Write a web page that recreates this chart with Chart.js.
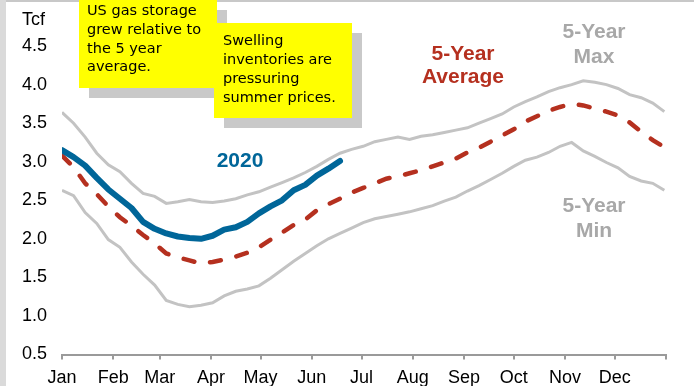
<!DOCTYPE html>
<html>
<head>
<meta charset="utf-8">
<script src="https://cdn.jsdelivr.net/npm/chart.js@4/dist/chart.umd.min.js"></script>
<style>
html,body{margin:0;padding:0;background:#fff;overflow:hidden;}
canvas{display:block;}
</style>
</head>
<body>
<canvas id="c" width="694" height="386"></canvas>
<script>
// ---- data (Tcf, weekly) ----
const weekDays = [0,7,14,21,28,35,42,49,56,63,70,77,84,91,98,105,112,119,126,133,140,147,154,161,168,175,182,189,196,203,210,217,224,231,238,245,252,259,266,273,280,287,294,301,308,315,322,329,336,343,350,357,364];
const fiveYearMax = [3.64,3.50,3.32,3.11,2.96,2.87,2.72,2.59,2.55,2.46,2.48,2.51,2.48,2.47,2.49,2.52,2.57,2.61,2.67,2.73,2.79,2.86,2.94,3.03,3.11,3.16,3.20,3.26,3.29,3.32,3.29,3.33,3.35,3.38,3.41,3.44,3.50,3.56,3.62,3.71,3.78,3.84,3.91,3.96,4.00,4.05,4.03,4.00,3.95,3.87,3.83,3.76,3.65];
const fiveYearMin = [2.63,2.56,2.34,2.20,1.99,1.89,1.70,1.54,1.40,1.20,1.15,1.12,1.14,1.17,1.26,1.32,1.35,1.39,1.49,1.60,1.71,1.81,1.91,2.00,2.07,2.14,2.21,2.26,2.29,2.32,2.35,2.39,2.43,2.49,2.54,2.62,2.69,2.77,2.85,2.94,3.02,3.06,3.12,3.20,3.25,3.14,3.07,2.99,2.92,2.81,2.75,2.72,2.63];
const fiveYearAvg = [3.08,2.93,2.72,2.58,2.42,2.28,2.17,2.05,1.94,1.81,1.76,1.72,1.68,1.70,1.73,1.77,1.82,1.89,1.99,2.08,2.18,2.25,2.37,2.45,2.52,2.60,2.66,2.72,2.78,2.81,2.85,2.89,2.94,2.99,3.04,3.12,3.18,3.26,3.34,3.42,3.52,3.59,3.66,3.71,3.75,3.73,3.69,3.65,3.60,3.51,3.39,3.28,3.19];
const year2020 = [3.15,3.06,2.95,2.79,2.64,2.52,2.40,2.22,2.13,2.07,2.03,2.01,2.00,2.04,2.12,2.15,2.22,2.33,2.42,2.50,2.63,2.70,2.82,2.91,3.01];

// ---- axis ticks ----
const monthDays = [0,31,59,90,120,151,181,212,243,273,304,334,365];
const monthLabels = ['Jan','Feb','Mar','Apr','May','Jun','Jul','Aug','Sep','Oct','Nov','Dec',''];
const yTicks = [0.5,1.0,1.5,2.0,2.5,3.0,3.5,4.0,4.5];

const pts = (vals) => vals.map((v,i)=>({x:weekDays[i], y:v}));

const FONT = "'Liberation Sans', Arial, sans-serif";
const NOTE_FONT = "'Comic Sans MS', 'DejaVu Sans', sans-serif";

const notesPlugin = {
  id:'notes',
  beforeDraw(chart){
    const c = chart.ctx;
    c.save();
    c.fillStyle = '#ffffff';
    c.fillRect(0,0,chart.width,chart.height);
    c.restore();
  },
  afterDraw(chart){
    const c = chart.ctx;
    c.save();
    // frame
    c.fillStyle = '#c8c8c8';
    c.fillRect(0,0,chart.width,2);
    c.fillStyle = '#dadada';
    c.fillRect(0,0,6,chart.height);

    // note boxes
    function box(x,y,w,h,lines,tx,ty,lh){
      c.fillStyle = '#c9c9c9';
      c.fillRect(x+10,y+10,w,h);
      c.fillStyle = '#ffff00';
      c.fillRect(x,y,w,h);
      c.fillStyle = '#000000';
      c.font = '14.5px ' + NOTE_FONT;
      c.textAlign = 'left';
      c.textBaseline = 'alphabetic';
      lines.forEach((t,i)=>c.fillText(t,tx,ty+i*lh));
    }
    box(79,0,138,88,['US gas storage','grew relative to','the 5 year','average.'],87,15,18.8);
    box(214,23,138,95,['Swelling','inventories are','pressuring','summer prices.'],223,45,18.9);

    // series labels
    c.textAlign = 'center';
    c.textBaseline = 'alphabetic';
    c.font = 'bold 21px ' + FONT;
    c.fillStyle = '#b5301f';
    c.fillText('5-Year',463,60);
    c.fillText('Average',463,83);
    c.fillStyle = '#a8a8a8';
    c.fillText('5-Year',594,38);
    c.fillText('Max',594,63);
    c.fillText('5-Year',594,212);
    c.fillText('Min',594,237);
    c.fillStyle = '#006699';
    c.fillText('2020',240,167);

    // unit
    c.font = '18px ' + FONT;
    c.fillStyle = '#000';
    c.textAlign = 'left';
    c.fillText('Tcf',22,25);
    c.restore();
  }
};

new Chart(document.getElementById('c').getContext('2d'), {
  type:'line',
  data:{
    datasets:[
      {label:'2020', data:pts(year2020), borderColor:'#006699', borderWidth:6, pointRadius:0, tension:0, borderCapStyle:'round', borderJoinStyle:'round'},
      {label:'5-Year Average', data:pts(fiveYearAvg), borderColor:'#b5301f', borderWidth:4.5, borderDash:[11,16], borderCapStyle:'round', pointRadius:0, tension:0},
      {label:'5-Year Max', data:pts(fiveYearMax), borderColor:'#c3c3c3', borderWidth:3, pointRadius:0, tension:0},
      {label:'5-Year Min', data:pts(fiveYearMin), borderColor:'#c3c3c3', borderWidth:3, pointRadius:0, tension:0}
    ]
  },
  options:{
    responsive:false,
    animation:false,
    layout:{padding:{left:0,right:28,top:7.5,bottom:0}},
    plugins:{legend:{display:false}, tooltip:{enabled:false}},
    scales:{
      x:{
        type:'linear', min:0, max:365,
        afterBuildTicks:(s)=>{ s.ticks = monthDays.map(v=>({value:v})); },
        ticks:{callback:(v,i)=>monthLabels[i], color:'#000', font:{family:FONT,size:18}, padding:8, maxRotation:0, autoSkip:false},
        grid:{display:true, drawOnChartArea:false, drawTicks:true, tickLength:5, color:'#9a9a9a', lineWidth:2},
        border:{display:true, color:'#9a9a9a', width:2},
        afterFit:(s)=>{ s.height = 31.5; s.paddingLeft = 0; s.paddingRight = 0; s.paddingTop = 0; s.paddingBottom = 0; }
      },
      y:{
        min:0.5, max:5,
        afterBuildTicks:(s)=>{ s.ticks = yTicks.map(v=>({value:v})); },
        ticks:{callback:(v)=>Number(v).toFixed(1), color:'#000', font:{family:FONT,size:18}, padding:15},
        grid:{display:false, drawTicks:false},
        border:{display:false},
        afterFit:(s)=>{ s.width = 62; s.paddingTop = 0; s.paddingBottom = 0; s.paddingLeft = 0; s.paddingRight = 0; }
      }
    }
  },
  plugins:[notesPlugin]
});
</script>
</body>
</html>
